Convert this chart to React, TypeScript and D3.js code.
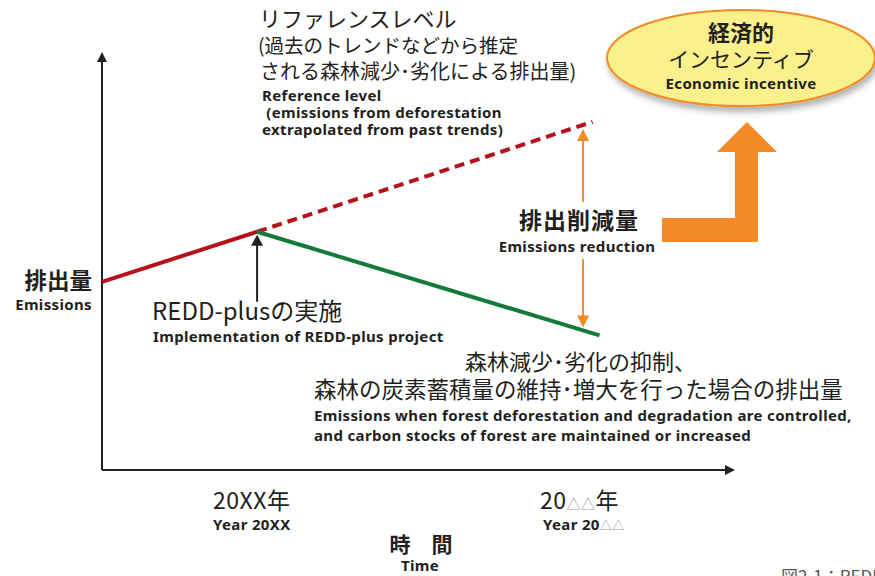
import React from "react";
import * as d3 from "d3";

// time position (0..10) and emission level (0..10)
const pastTime = [0, 2.45];
const pastEmission = [4.5, 5.7];
const referenceTime = [2.45, 7.75];
const referenceEmission = [5.7, 8.33];
const reddTime = [2.45, 7.86];
const reddEmission = [5.7, 3.22];
const reductionTime = 7.6;

const yearPrefix = ["20XX", "20"];
const yearMarks = ["", "△△"];

const W = 875;
const H = 576;
const JP = "'Noto Sans CJK JP', 'Noto Sans', sans-serif";
const EN = "'Noto Sans', 'Open Sans', sans-serif";
const INK = "#231f20";
const RED = "#b5121b";
const GREEN = "#127a3a";
const ORANGE = "#f28a25";
const ENS = 15;
const ENL = 0.35;

export default function App() {
  const x = d3.scaleLinear().domain([0, 10]).range([102, 735]);
  const y = d3.scaleLinear().domain([0, 10]).range([470, 52]);

  const line = d3
    .line<[number, number]>()
    .x((d) => x(d[0]))
    .y((d) => y(d[1]));

  const pts = (t: number[], e: number[]) => t.map((v, i) => [v, e[i]] as [number, number]);

  // interpolate on the drawn segments to anchor the reduction arrow
  const refAt = d3.scaleLinear().domain(referenceTime).range(referenceEmission);
  const reddAt = d3.scaleLinear().domain(reddTime).range(reddEmission);
  const ax = x(reductionTime);
  const aTop = y(refAt(reductionTime)) + 4;
  const aBot = y(reddAt(reductionTime)) - 3;

  const bx = x(pastTime[1]);
  const by = y(pastEmission[1]);

  const en = { fontFamily: EN, fontWeight: "bold", fontSize: ENS, letterSpacing: ENL } as const;

  return (
    <svg
      width={W}
      height={H}
      style={{ position: "absolute", left: 0, top: 0, background: "#fff" }}
    >
      <defs>
        <filter id="sh" x="-20%" y="-20%" width="140%" height="160%">
          <feDropShadow dx="2" dy="5" stdDeviation="3" floodColor="#000" floodOpacity="0.3" />
        </filter>
      </defs>

      {/* axes */}
      <line x1={x(0)} y1={y(0)} x2={x(0)} y2={y(10) + 6} stroke={INK} strokeWidth={2} />
      <path d={`M${x(0) - 5},${y(10) + 10} L${x(0)},${y(10)} L${x(0) + 5},${y(10) + 10} Z`} fill={INK} />
      <line x1={x(0)} y1={y(0)} x2={x(10) - 6} y2={y(0)} stroke={INK} strokeWidth={2} />
      <path d={`M${x(10) - 10},${y(0) - 5} L${x(10)},${y(0)} L${x(10) - 10},${y(0) + 5} Z`} fill={INK} />

      {/* series */}
      <path d={line(pts(referenceTime, referenceEmission)) || ""} fill="none" stroke={RED} strokeWidth={4} strokeDasharray="10,6" />
      <path d={line(pts(pastTime, pastEmission)) || ""} fill="none" stroke={RED} strokeWidth={4} />
      <path d={line(pts(reddTime, reddEmission)) || ""} fill="none" stroke={GREEN} strokeWidth={4} />

      {/* REDD-plus implementation arrow */}
      <line x1={bx} y1={by + 70} x2={bx} y2={by + 12} stroke={INK} strokeWidth={2} />
      <path d={`M${bx - 6},${by + 14} L${bx},${by + 3} L${bx + 6},${by + 14} Z`} fill={INK} />

      {/* emissions reduction double arrow */}
      <line x1={ax} y1={aTop + 10} x2={ax} y2={202} stroke={ORANGE} strokeWidth={2} />
      <line x1={ax} y1={259} x2={ax} y2={aBot - 10} stroke={ORANGE} strokeWidth={2} />
      <path d={`M${ax - 6},${aTop + 12} L${ax},${aTop} L${ax + 6},${aTop + 12} Z`} fill={ORANGE} />
      <path d={`M${ax - 6},${aBot - 12} L${ax},${aBot} L${ax + 6},${aBot - 12} Z`} fill={ORANGE} />

      {/* big orange arrow */}
      <path d="M662,218 L735,218 L735,152 L717,152 L747,122 L777,152 L758,152 L758,242 L662,242 Z" fill={ORANGE} />

      {/* economic incentive ellipse */}
      <ellipse cx={741} cy={58} rx={134} ry={48} fill="#fbf08c" stroke={ORANGE} strokeWidth={2} filter="url(#sh)" />
      <g fill={INK} textAnchor="middle">
        <text x={741} y={41} fontFamily={JP} fontWeight="bold" fontSize={22}>経済的</text>
        <text x={741} y={67} fontFamily={JP} fontSize={21}>インセンティブ</text>
        <text x={741} y={89} {...en}>Economic incentive</text>
      </g>

      {/* reference level text */}
      <g fill={INK}>
        <text x={259} y={27} fontFamily={JP} fontSize={22}>リファレンスレベル</text>
        <text x={258} y={53} fontFamily={JP} fontSize={19.5}>(過去のトレンドなどから推定</text>
        <text x={260} y={79} fontFamily={JP} fontSize={20}>される森林減少･劣化による排出量)</text>
        <text x={262} y={101} {...en}>Reference level</text>
        <text x={262} y={118} {...en} xmlSpace="preserve"> (emissions from deforestation</text>
        <text x={262} y={135} {...en}>extrapolated from past trends)</text>
      </g>

      {/* emissions reduction label */}
      <g fill={INK} textAnchor="middle">
        <text x={579} y={229} fontFamily={JP} fontWeight="bold" fontSize={23} letterSpacing={1}>排出削減量</text>
        <text x={577} y={252} {...en}>Emissions reduction</text>
      </g>

      {/* y axis label */}
      <g fill={INK} textAnchor="end">
        <text x={92} y={289} fontFamily={JP} fontWeight="bold" fontSize={22.5}>排出量</text>
        <text x={92} y={310} {...en}>Emissions</text>
      </g>

      {/* REDD-plus label */}
      <g fill={INK}>
        <text x={152} y={320} fontFamily={JP} fontSize={24}>REDD-plusの実施</text>
        <text x={153} y={342} {...en}>Implementation of REDD-plus project</text>
      </g>

      {/* green line label */}
      <g fill={INK}>
        <text x={465} y={370} fontFamily={JP} fontSize={22}>森林減少･劣化の抑制、</text>
        <text x={314} y={398} fontFamily={JP} fontSize={22.5}>森林の炭素蓄積量の維持･増大を行った場合の排出量</text>
        <text x={314} y={421} {...en}>Emissions when forest deforestation and degradation are controlled,</text>
        <text x={314} y={441} {...en}>and carbon stocks of forest are maintained or increased</text>
      </g>

      {/* time labels */}
      <g fill={INK}>
        <text x={213} y={509} fontFamily={JP} fontSize={23} letterSpacing={0.5}>
          {yearPrefix[0]}{yearMarks[0]}年
        </text>
        <text x={213} y={530} {...en}>Year {yearPrefix[0]}</text>
        <text x={540} y={509} fontFamily={JP} fontSize={23} letterSpacing={0.5}>
          {yearPrefix[1]}
          <tspan fill="#999" fontSize={14}>{yearMarks[1]}</tspan>
          年
        </text>
        <text x={543} y={530} {...en}>
          Year {yearPrefix[1]}
          <tspan fill="#999" fontFamily={JP} fontWeight="normal" fontSize={12}>{yearMarks[1]}</tspan>
        </text>
      </g>
      <g fill={INK} textAnchor="middle">
        <text x={421} y={552} fontFamily={JP} fontWeight="bold" fontSize={21}>時　間</text>
        <text x={420} y={571} {...en}>Time</text>
      </g>

      <text x={781} y={583} fontFamily={JP} fontSize={17} fill="#555">図2-1：REDD</text>
    </svg>
  );
}
